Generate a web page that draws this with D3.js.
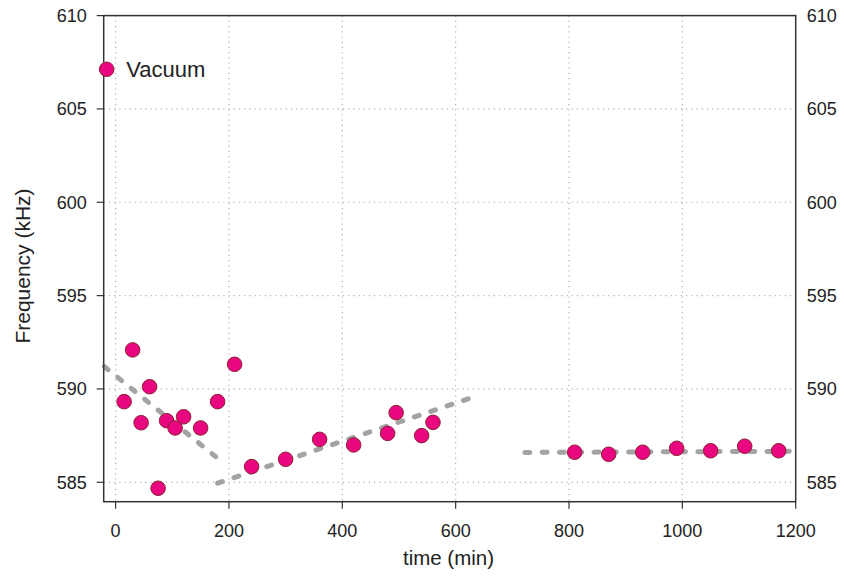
<!DOCTYPE html>
<html>
  <head>
    <title>Frequency vs time</title>
    <script src="https://d3js.org/d3.v7.min.js"></script>
    <style>
      body { margin: 0; background: #fff; }
      text { font-family: "Liberation Sans", Arial, sans-serif; fill: #222; }
      .tick-label { font-size: 18px; }
      .axis-title { font-size: 20.5px; }
      .legend-label { font-size: 22px; }
    </style>
  </head>
  <body>
    <svg width="844" height="576"></svg>
    <script>
      // measured points
      const times = [15, 30, 45, 60, 75, 90, 105, 120, 150, 180, 210, 240,
        300, 360, 420, 480, 495, 540, 560,
        810, 870, 930, 990, 1050, 1110, 1170];
      const freqs = [589.32, 592.09, 588.19, 590.12, 584.68, 588.3, 587.91, 588.51, 587.91, 589.32, 591.32, 585.84,
        586.23, 587.3, 587.0, 587.62, 588.73, 587.5, 588.21,
        586.61, 586.5, 586.61, 586.82, 586.69, 586.93, 586.69];

      // dashed trend segments: [t0, f0, t1, f1]
      const trends = [
        [-20, 591.2, 180, 586.29],
        [180, 584.95, 630, 589.55],
        [722, 586.6, 1200, 586.66]
      ];

      const xTicks = [0, 200, 400, 600, 800, 1000, 1200];
      const yTicks = [585, 590, 595, 600, 605, 610];
      const seriesName = "Vacuum";

      const plotL = 103.7, plotR = 795.7, plotT = 15.6, plotB = 501.7;
      const svg = d3.select("svg");

      const x = d3.scaleLinear().domain([-21, 1200]).range([plotL, plotR]);
      const y = d3.scaleLinear().domain([583.96, 610]).range([plotB, plotT]);

      // grid
      const grid = svg.append("g")
        .attr("stroke", "#b9acb0")
        .attr("stroke-width", 1.2)
        .attr("stroke-dasharray", "1.2,4");
      grid.selectAll(".vg")
        .data(xTicks.filter(d => d < 1200))
        .enter().append("line")
          .attr("x1", d => x(d)).attr("x2", d => x(d))
          .attr("y1", plotT).attr("y2", plotB);
      grid.selectAll(".hg")
        .data(yTicks.filter(d => d < 610))
        .enter().append("line")
          .attr("x1", plotL).attr("x2", plotR)
          .attr("y1", d => y(d)).attr("y2", d => y(d));

      // trend lines
      const plot = svg.append("g");
      plot.selectAll(".trend")
        .data(trends)
        .enter().append("line")
          .attr("x1", d => x(d[0])).attr("y1", d => y(d[1]))
          .attr("x2", d => x(d[2])).attr("y2", d => y(d[3]))
          .attr("stroke", "#a3a3a3")
          .attr("stroke-width", 5)
          .attr("stroke-linecap", "round")
          .attr("stroke-dasharray", "5,12.3");

      // points
      plot.selectAll(".pt")
        .data(times)
        .enter().append("circle")
          .attr("cx", d => x(d))
          .attr("cy", (d, i) => y(freqs[i]))
          .attr("r", 7.3)
          .attr("fill", "#e8077f")
          .attr("stroke", "#8c2233")
          .attr("stroke-width", 1);

      // frame
      svg.append("rect")
        .attr("x", plotL).attr("y", plotT)
        .attr("width", plotR - plotL).attr("height", plotB - plotT)
        .attr("fill", "none")
        .attr("stroke", "#333")
        .attr("stroke-width", 1.5);

      // x axis
      const xAxis = svg.append("g");
      xAxis.selectAll("line")
        .data(xTicks)
        .enter().append("line")
          .attr("x1", d => x(d)).attr("x2", d => x(d))
          .attr("y1", plotB).attr("y2", plotB + 7)
          .attr("stroke", "#333").attr("stroke-width", 1.2);
      xAxis.selectAll("text")
        .data(xTicks)
        .enter().append("text")
          .attr("class", "tick-label")
          .attr("x", d => x(d))
          .attr("y", plotB + 29)
          .attr("dy", "0.35em")
          .attr("text-anchor", "middle")
          .text(d => d);

      // y axes (left with ticks, right labels only)
      const yAxis = svg.append("g");
      yAxis.selectAll("line")
        .data(yTicks)
        .enter().append("line")
          .attr("x1", plotL - 7).attr("x2", plotL)
          .attr("y1", d => y(d)).attr("y2", d => y(d))
          .attr("stroke", "#333").attr("stroke-width", 1.2);
      yAxis.selectAll(".yl")
        .data(yTicks)
        .enter().append("text")
          .attr("class", "tick-label")
          .attr("x", plotL - 17)
          .attr("y", d => y(d))
          .attr("dy", "0.35em")
          .attr("text-anchor", "end")
          .text(d => d);
      yAxis.selectAll(".yr")
        .data(yTicks)
        .enter().append("text")
          .attr("class", "tick-label")
          .attr("x", plotR + 11)
          .attr("y", d => y(d))
          .attr("dy", "0.35em")
          .attr("text-anchor", "start")
          .text(d => d);

      // titles
      svg.append("text")
        .attr("class", "axis-title")
        .attr("x", 448.5)
        .attr("y", 565)
        .attr("text-anchor", "middle")
        .text("time (min)");
      svg.append("text")
        .attr("class", "axis-title")
        .attr("transform", "translate(29.5, 266) rotate(-90)")
        .attr("text-anchor", "middle")
        .style("font-size", "21px")
        .text("Frequency (kHz)");

      // legend
      const legendG = svg.append("g")
        .attr("transform", "translate(106.7, 69.3)");
      legendG.append("circle")
        .attr("r", 7.3)
        .attr("fill", "#e8077f")
        .attr("stroke", "#8c2233");
      legendG.append("text")
        .attr("class", "legend-label")
        .attr("x", 19.5)
        .attr("dy", "0.35em")
        .text(seriesName);
    </script>
  </body>
</html>
